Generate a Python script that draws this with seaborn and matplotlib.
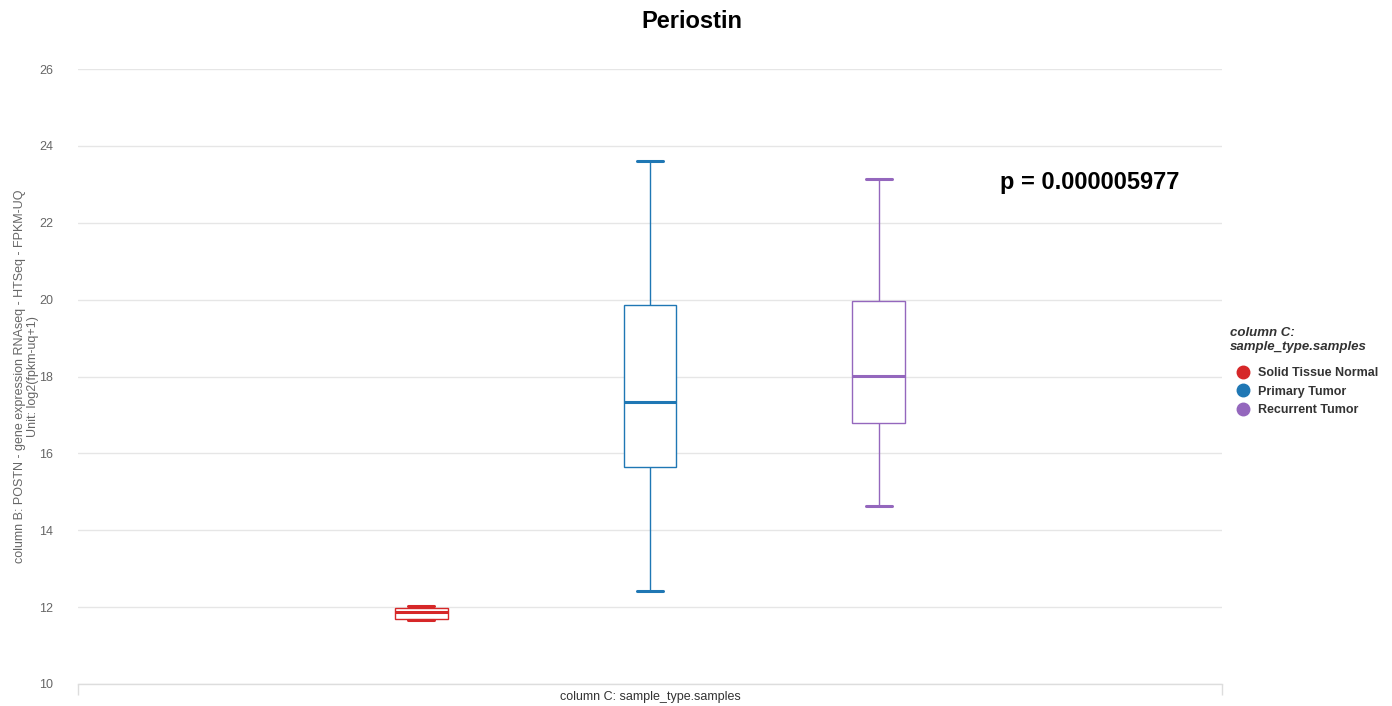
import numpy as np
import pandas as pd
import matplotlib
matplotlib.use("Agg")
import matplotlib.pyplot as plt
from matplotlib.lines import Line2D
import seaborn as sns

# ---- data (five-number summaries: min, Q1, median, Q3, max)
groups = ["Solid Tissue Normal", "Primary Tumor", "Recurrent Tumor"]
normal_vals = [11.66, 11.69, 11.87, 11.99, 12.04]
primary_vals = [12.42, 15.65, 17.34, 19.86, 23.61]
recurrent_vals = [14.63, 16.79, 18.01, 19.96, 23.14]
colors = ["#d62728", "#1f77b4", "#9467bd"]
y_ticks = [10, 12, 14, 16, 18, 20, 22, 24, 26]
title = "Periostin"
p_text = "p = 0.000005977"
x_title = "column C: sample_type.samples"
y_title = "column B: POSTN - gene expression RNAseq - HTSeq - FPKM-UQ\nUnit: log2(fpkm-uq+1)"
legend_title = "column C:\nsample_type.samples"

df = pd.DataFrame({
    "value": normal_vals + primary_vals + recurrent_vals,
    "group": [groups[0]] * len(normal_vals) + [groups[1]] * len(primary_vals) + [groups[2]] * len(recurrent_vals),
    "cat": [""] * 15,
})

sns.set_theme(style="white")
plt.rcParams["font.family"] = ["Liberation Sans", "DejaVu Sans"]

fig = plt.figure(figsize=(13.92, 7.06), dpi=100)
ax = fig.add_axes([78 / 1392, 1 - 684 / 706, (1222 - 78) / 1392, (684 - 69) / 706])

sns.boxplot(
    data=df, x="cat", y="value", hue="group", hue_order=groups,
    palette={g: "white" for g in groups}, width=0.6, gap=0.77,
    whis=(0, 100), fill=True, linewidth=1.0, legend=False, ax=ax,
)

# colour the boxes and their lines by group (match by x position)
centers = []
for patch in ax.patches:
    verts = patch.get_path().vertices
    centers.append(np.mean([verts[:, 0].min(), verts[:, 0].max()]))
order = np.argsort(centers)
patch_centers = np.array(centers)[order]
for rank, idx in enumerate(order):
    p = ax.patches[idx]
    p.set_facecolor("white")
    p.set_edgecolor(colors[rank])
    p.set_linewidth(1.0)
    p.set_zorder(3)
for ln in ax.lines:
    xd = np.asarray(ln.get_xdata(), dtype=float)
    if xd.size == 0:
        continue
    xc = xd.mean()
    rank = int(np.argmin(np.abs(patch_centers - xc)))
    ln.set_color(colors[rank])
    ln.set_zorder(4)
    yd = np.asarray(ln.get_ydata(), dtype=float)
    if len(yd) == 2 and yd[0] == yd[1]:
        ln.set_linewidth(2.2)  # caps and medians
    else:
        ln.set_linewidth(1.0)

ax.set_xlim(-0.5, 0.5)
ax.set_ylim(10, 26)
ax.set_yticks(y_ticks)
ax.set_xticks([-0.5, 0.5])
ax.set_xticklabels(["", ""])
ax.tick_params(axis="y", length=0, labelsize=9, labelcolor="#666666", pad=18)
ax.tick_params(axis="x", length=8, width=1, color="#dddddd", direction="out", bottom=True)
ax.yaxis.grid(True, color="#e6e6e6", linewidth=1)
ax.set_axisbelow(True)
for s in ["left", "right", "top"]:
    ax.spines[s].set_visible(False)
ax.spines["bottom"].set_color("#dddddd")
ax.spines["bottom"].set_linewidth(1)

ax.set_xlabel("")
fig.text(650 / 1392, 1 - 697 / 706, x_title, ha="center", va="center",
         fontsize=9, color="#333333")
ax.set_ylabel(y_title, fontsize=9, color="#666666", labelpad=2, linespacing=1.2)
ax.yaxis.set_label_coords(-0.0338, 0.5)

fig.text(692 / 1392, 1 - 21 / 706, title, ha="center", va="center",
         fontsize=17, fontweight="bold", color="black")
fig.text(1000 / 1392, 1 - 183 / 706, p_text, ha="left", va="center",
         fontsize=17, fontweight="bold", color="black")

handles = [Line2D([0], [0], marker="o", linestyle="none", markersize=9,
                  markerfacecolor=c, markeredgecolor=c) for c in colors]
leg = fig.legend(handles, groups, loc="upper left",
                 bbox_to_anchor=(1225 / 1392, 1 - 322 / 706),
                 frameon=False, title=legend_title, handletextpad=0.15,
                 labelspacing=0.52, borderaxespad=0, handlelength=2.1,
                 prop={"weight": "bold", "size": 9})
leg.get_title().set_fontweight("bold")
leg.get_title().set_fontstyle("italic")
leg.get_title().set_fontsize(9.5)
leg.get_title().set_color("#333333")
leg.get_title().set_linespacing(1.25)
leg._legend_box.align = "left"
leg._legend_box.sep = 10
for t in leg.get_texts():
    t.set_color("#333333")

fig.savefig("out.png", dpi=100)
